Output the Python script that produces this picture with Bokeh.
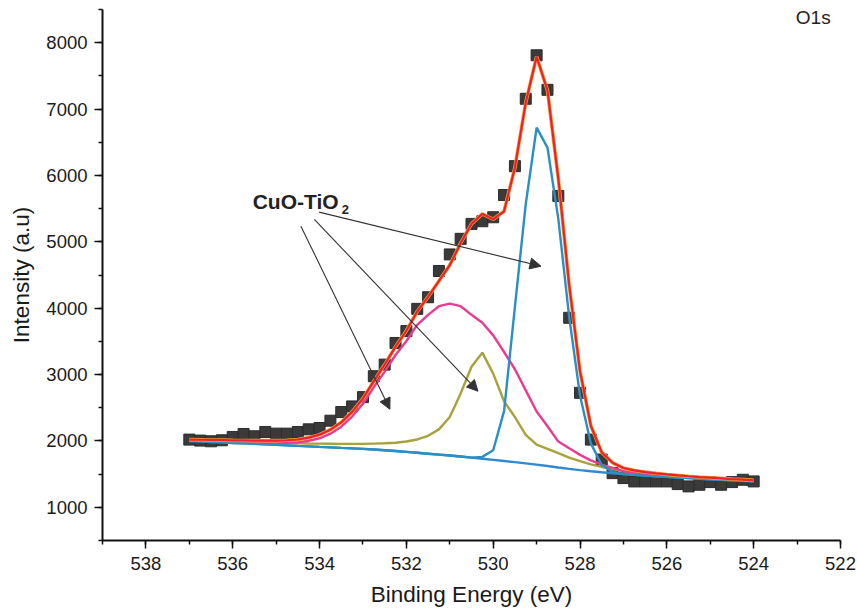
from bokeh.plotting import figure
from bokeh.models import Range1d, SingleIntervalTicker, Arrow, NormalHead, Label
from bokeh.embed import file_html
from bokeh.resources import INLINE

# O1s core-level spectrum of CuO-TiO2 with its peak-fit components
energy = [537.0, 536.75, 536.5, 536.25, 536.0, 535.75, 535.5, 535.25, 535.0, 534.75,
          534.5, 534.25, 534.0, 533.75, 533.5, 533.25, 533.0, 532.75, 532.5, 532.25,
          532.0, 531.75, 531.5, 531.25, 531.0, 530.75, 530.5, 530.25, 530.0, 529.75,
          529.5, 529.25, 529.0, 528.75, 528.5, 528.25, 528.0, 527.75, 527.5, 527.25,
          527.0, 526.75, 526.5, 526.25, 526.0, 525.75, 525.5, 525.25, 525.0, 524.75,
          524.5, 524.25, 524.0]

measured = [2020, 2005, 1995, 2010, 2060, 2105, 2070, 2135, 2110, 2110,
            2135, 2175, 2195, 2305, 2435, 2520, 2660, 2975, 3150, 3475,
            3655, 3990, 4165, 4560, 4810, 5045, 5270, 5310, 5370, 5705,
            6140, 7155, 7810, 7290, 5690, 3855, 2725, 2020, 1720, 1515,
            1440, 1390, 1390, 1390, 1390, 1350, 1315, 1340, 1380, 1340,
            1380, 1415, 1390]

background = [2000, 1993, 1985, 1978, 1970, 1963, 1955, 1948, 1940, 1933,
              1925, 1918, 1910, 1903, 1895, 1888, 1880, 1870, 1860, 1848,
              1836, 1822, 1808, 1794, 1780, 1765, 1748, 1731, 1714, 1697,
              1680, 1662, 1643, 1622, 1600, 1579, 1560, 1543, 1528, 1514,
              1501, 1489, 1478, 1468, 1458, 1449, 1440, 1431, 1423, 1415,
              1407, 1399, 1391]

peak_lattice = [2000, 1993, 1985, 1978, 1970, 1963, 1955, 1948, 1940, 1933,
                1925, 1918, 1910, 1903, 1895, 1888, 1880, 1870, 1860, 1848,
                1836, 1822, 1808, 1794, 1780, 1765, 1748, 1760, 1860, 2450,
                4020, 5570, 6720, 6420, 5345, 3870, 2685, 1963, 1638, 1534,
                1501, 1489, 1478, 1468, 1458, 1449, 1440, 1431, 1423, 1415,
                1407, 1399, 1391]

peak_mid = [2015, 2010, 2005, 2000, 1995, 1991, 1985, 1980, 1975, 1970,
            1965, 1962, 1960, 1958, 1955, 1955, 1955, 1960, 1965, 1973,
            1991, 2022, 2078, 2174, 2360, 2715, 3118, 3330, 3014, 2597,
            2360, 2092, 1943, 1882, 1815, 1749, 1695, 1648, 1608, 1576,
            1541, 1524, 1508, 1495, 1482, 1471, 1460, 1449, 1440, 1431,
            1422, 1413, 1404]

peak_high = [2005, 1999, 1993, 1988, 1982, 1977, 1973, 1970, 1967, 1971,
             1980, 2003, 2040, 2110, 2215, 2368, 2560, 2810, 3045, 3295,
             3506, 3750, 3900, 4030, 4070, 4030, 3900, 3780, 3590, 3340,
             3080, 2762, 2443, 2222, 1990, 1889, 1790, 1708, 1643, 1594,
             1546, 1521, 1501, 1485, 1471, 1459, 1448, 1438, 1429, 1420,
             1411, 1403, 1394]

envelope = [2020, 2018, 2015, 2012, 2008, 2007, 2005, 2004, 2005, 2010,
            2022, 2050, 2095, 2170, 2280, 2438, 2640, 2900, 3150, 3420,
            3660, 3950, 4170, 4410, 4650, 4980, 5270, 5420, 5340, 5460,
            6120, 7100, 7790, 7280, 5950, 4350, 3050, 2228, 1828, 1671,
            1593, 1556, 1531, 1512, 1495, 1481, 1468, 1456, 1446, 1436,
            1426, 1417, 1407]

# annotation arrows: (x_start, y_start, x_end, y_end)
arrow_x0 = [534.43, 534.12, 534.01]
arrow_y0 = [5236, 5337, 5447]
arrow_x1 = [532.38, 530.35, 528.90]
arrow_y1 = [2477, 2749, 4633]

FONT = "Liberation Sans"

p = figure(width=857, height=609, output_backend="svg", toolbar_location=None,
           x_range=Range1d(539, 522), y_range=Range1d(500, 8500),
           min_border_left=102, min_border_right=17,
           min_border_top=9, min_border_bottom=69,
           x_axis_label="Binding Energy (eV)", y_axis_label="Intensity (a.u)")
p.outline_line_color = None
p.grid.visible = False
p.background_fill_color = "white"
p.border_fill_color = "white"

p.xaxis.ticker = SingleIntervalTicker(interval=2, num_minor_ticks=2)
p.yaxis.ticker = SingleIntervalTicker(interval=1000, num_minor_ticks=2)
for ax in (p.xaxis, p.yaxis):
    ax.axis_line_color = "#111111"
    ax.axis_line_width = 2
    ax.major_tick_line_color = "#111111"
    ax.major_tick_line_width = 1.5
    ax.minor_tick_line_color = "#111111"
    ax.minor_tick_line_width = 1.5
    ax.major_tick_out = 8
    ax.major_tick_in = 0
    ax.minor_tick_out = 4
    ax.minor_tick_in = 0
    ax.major_label_text_font = FONT
    ax.major_label_text_font_size = "18.5px"
    ax.major_label_text_color = "#1a1a1a"
    ax.axis_label_text_font = FONT
    ax.axis_label_text_font_size = "22.5px"
    ax.axis_label_text_font_style = "normal"
    ax.axis_label_text_color = "#1a1a1a"
p.xaxis.major_label_standoff = 8
p.yaxis.major_label_standoff = 7
p.xaxis.axis_label_standoff = 9
p.yaxis.axis_label_standoff = 9

# measured points
p.scatter(energy, measured, marker="square", size=11,
          fill_color="#3a3a3a", line_color="#2c2c2c", line_width=1)

# background and fitted components
p.line(energy, background, line_color="#2f88d2", line_width=2.4)
p.line(energy, peak_mid, line_color="#a6a33a", line_width=2.4)
p.line(energy, peak_high, line_color="#ea3b92", line_width=2.4)
p.line(energy, peak_lattice, line_color="#2a8fc2", line_width=2.4)

# cumulative fit
p.line(energy, envelope, line_color="#f4a42a", line_width=3.6)
p.line(energy, envelope, line_color="#ee1f33", line_width=2.2)

for xs, ys, xe, ye in zip(arrow_x0, arrow_y0, arrow_x1, arrow_y1):
    p.add_layout(Arrow(end=NormalHead(size=11, fill_color="#333333", line_color="#333333",
                                      line_width=1),
                       x_start=xs, y_start=ys, x_end=xe, y_end=ye,
                       line_color="#333333", line_width=1.1))

p.add_layout(Label(x=535.54, y=5613, text="CuO-TiO", text_font=FONT,
                   text_font_size="21px", text_font_style="bold",
                   text_color="#222222", text_align="left", text_baseline="alphabetic"))
p.add_layout(Label(x=533.49, y=5493, text="2", text_font=FONT,
                   text_font_size="13px", text_font_style="bold",
                   text_color="#222222", text_align="left", text_baseline="alphabetic"))
p.add_layout(Label(x=523.03, y=8387, text="O1s", text_font=FONT,
                   text_font_size="19px", text_color="#222222",
                   text_align="left", text_baseline="middle"))

open("out.html", "w").write(file_html(p, INLINE))
